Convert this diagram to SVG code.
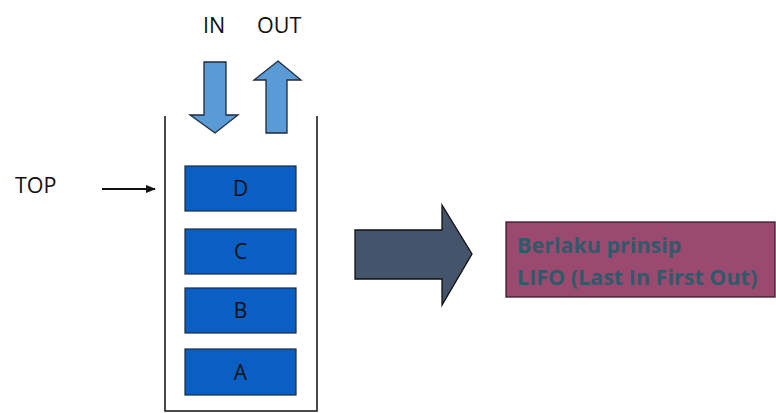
<svg xmlns="http://www.w3.org/2000/svg" width="776" height="413" viewBox="0 0 776 413">
<style>
.lbl{font-family:"Open Sans","Liberation Sans",sans-serif;font-size:21.5px;fill:#111}
.item rect{fill:#0A5FC4;stroke:#1a2a40;stroke-width:1.2}
.item text{font-family:"Open Sans","Liberation Sans",sans-serif;font-size:21px;fill:#111;text-anchor:middle}
.blue{fill:#5B9BD5;stroke:#1f2a3a;stroke-width:1.3}
.lifo{font-family:"Open Sans","Liberation Sans",sans-serif;font-size:21.5px;font-weight:bold;fill:#2E5A6B}
</style>
<defs>
<marker id="ah" markerWidth="10" markerHeight="8" refX="9" refY="4" orient="auto" markerUnits="userSpaceOnUse">
<path d="M0,0 L10,4 L0,8 Z" fill="#111"/>
</marker>
</defs>
<rect width="776" height="413" fill="#fff"/>
<g id="container">
<path d="M165,116 V411 H317 V116" fill="none" stroke="#111" stroke-width="1.5"/>
</g>
<g id="item-d" class="item"><rect x="185" y="166" width="111" height="45"/><text x="240.5" y="196">D</text></g>
<g id="item-c" class="item"><rect x="185" y="229" width="111" height="45"/><text x="240.5" y="259">C</text></g>
<g id="item-b" class="item"><rect x="185" y="288" width="111" height="45"/><text x="240.5" y="318">B</text></g>
<g id="item-a" class="item"><rect x="185" y="349" width="111" height="46"/><text x="240.5" y="380">A</text></g>
<g id="label-top"><text class="lbl" x="15" y="193">TOP</text></g>
<g id="label-in"><text class="lbl" x="203" y="33">IN</text></g>
<g id="label-out"><text class="lbl" x="257" y="33">OUT</text></g>
<g id="arrow-in"><path class="blue" d="M204,62 H226 V115 H238 L215,133 L190,115 H204 Z"/></g>
<g id="arrow-out"><path class="blue" d="M278,61 L301,80 H287 V133 H266 V80 H254 Z"/></g>
<g id="big-arrow"><path d="M355,230 H442 V205 L472,254 L442,305 V279 H355 Z" fill="#44546A" stroke="#111" stroke-width="1.3"/></g>
<g id="lifo-box">
<rect x="506" y="222" width="269" height="75" fill="#9B4A6F" stroke="#3a1a2a" stroke-width="1.3"/>
<text class="lifo" x="517" y="253">Berlaku prinsip</text>
<text class="lifo" x="517" y="285">LIFO (Last In First Out)</text>
</g>
<g id="connectors">
<line x1="102" y1="189" x2="155" y2="189" stroke="#111" stroke-width="2" marker-end="url(#ah)"/>
</g>
</svg>
